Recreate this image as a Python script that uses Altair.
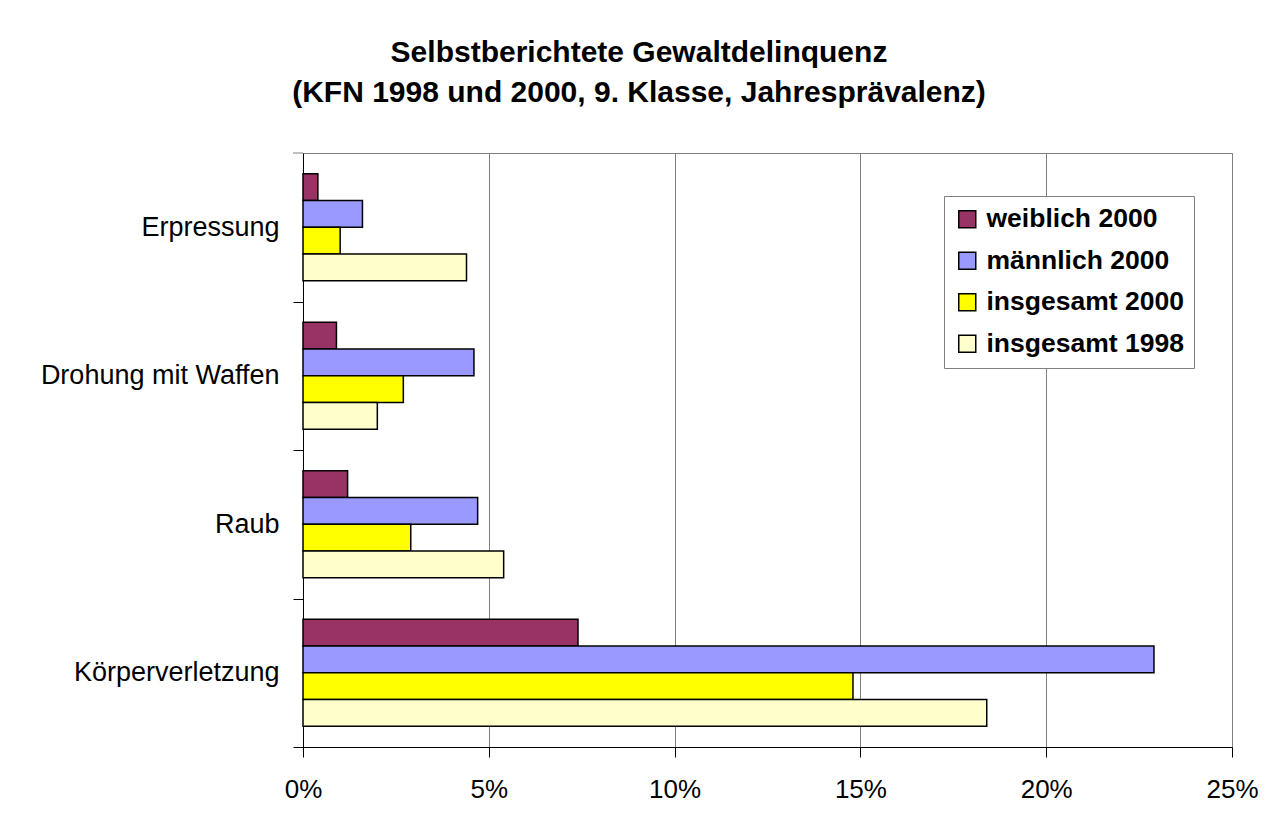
import altair as alt
import pandas as pd

categories = ["Erpressung", "Drohung mit Waffen", "Raub", "Körperverletzung"]
series = ["weiblich 2000", "männlich 2000", "insgesamt 2000", "insgesamt 1998"]
weiblich_2000 = [0.4, 0.9, 1.2, 7.4]
maennlich_2000 = [1.6, 4.6, 4.7, 22.9]
insgesamt_2000 = [1.0, 2.7, 2.9, 14.8]
insgesamt_1998 = [4.4, 2.0, 5.4, 18.4]
x_ticks = [0, 5, 10, 15, 20, 25]
colors = ["#993366", "#9999FF", "#FFFF00", "#FFFFCC"]

rows = []
for s, vals in zip(series, [weiblich_2000, maennlich_2000, insgesamt_2000, insgesamt_1998]):
    for c, v in zip(categories, vals):
        rows.append({"Delikt": c, "Gruppe": s, "Wert": v})
df = pd.DataFrame(rows)

FONT = "Liberation Sans"
W, H = 929, 594
step = H / len(categories)

bars = alt.Chart(df).mark_bar(stroke="black", strokeWidth=1.5).encode(
    x=alt.X(
        "Wert:Q",
        scale=alt.Scale(domain=[0, 25], nice=False),
        axis=alt.Axis(
            values=x_ticks,
            labelExpr="datum.value + '%'",
            title=None,
            grid=True,
            gridColor="#808080",
            gridWidth=1,
            domainColor="black",
            domainWidth=1,
            tickColor="black",
            tickSize=10,
            tickWidth=1,
            labelFont=FONT,
            labelFontSize=26,
            labelColor="black",
            labelPadding=19,
            labelLimit=0,
            labelFlush=False,
            labelOverlap=False,
        ),
    ),
    y=alt.Y(
        "Delikt:N",
        sort=categories,
        scale=alt.Scale(paddingInner=0.28, paddingOuter=0.14),
        axis=alt.Axis(
            title=None,
            grid=False,
            domainColor="black",
            domainWidth=1,
            tickColor="black",
            tickSize=10,
            tickWidth=1,
            tickOffset=step / 2,
            labelOffset=-step / 2,
            labelFont=FONT,
            labelFontSize=27,
            labelColor="black",
            labelPadding=14,
            labelLimit=0,
        ),
    ),
    yOffset=alt.YOffset("Gruppe:N", sort=series),
    color=alt.Color(
        "Gruppe:N",
        sort=series,
        scale=alt.Scale(domain=series, range=colors),
        legend=alt.Legend(
            title=None,
            orient="none",
            legendX=641,
            legendY=43,
            fillColor="white",
            strokeColor="#808080",
            padding=10,
            labelFont=FONT,
            labelFontSize=26.5,
            labelFontWeight="bold",
            labelColor="black",
            labelLimit=0,
            symbolType="square",
            symbolSize=289,
            symbolStrokeColor="black",
            symbolStrokeWidth=1.5,
            symbolOpacity=1,
            rowPadding=14.5,
            labelOffset=6,
        ),
    ),
)

top_tick = alt.Chart(pd.DataFrame({"t": [0]})).mark_rule(color="#808080", strokeWidth=1).encode(
    x=alt.value(-10), x2=alt.value(0), y=alt.value(0)
)

chart = alt.layer(bars, top_tick).properties(
    width=W,
    height=H,
    autosize=alt.AutoSizeParams(type="none"),
    padding={"left": 295, "top": 145, "right": 28, "bottom": 62},
    background="white",
    title=alt.Title(
        ["Selbstberichtete Gewaltdelinquenz", "(KFN 1998 und 2000, 9. Klasse, Jahresprävalenz)"],
        font=FONT,
        fontSize=30,
        fontWeight="bold",
        color="black",
        anchor="middle",
        frame="group",
        dx=-128.5,
        baseline="alphabetic",
        offset=21,
        lineHeight=40,
    ),
).configure_view(stroke="#808080", strokeWidth=1)

chart.save("out.html", embed_options={"renderer": "svg", "actions": False})
